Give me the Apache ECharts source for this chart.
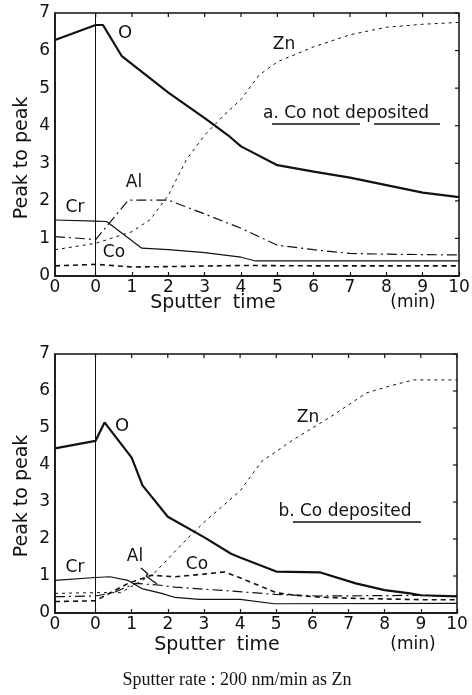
<!DOCTYPE html>
<html>
<head>
<meta charset="utf-8">
<script src="https://cdn.jsdelivr.net/npm/echarts@6/dist/echarts.min.js"></script>
<style>
  html, body { margin: 0; padding: 0; background: #fff; }
  #chart { width: 472px; height: 695px; }
</style>
</head>
<body>
<div id="chart"></div>
<script>
// sputter time (min); the stretch left of 0 is the pre-sputter part
var xStart = -1.12;
var tickTimes = [0, 1, 2, 3, 4, 5, 6, 7, 8, 9, 10];
var labelTimes = [xStart, 0, 1, 2, 3, 4, 5, 6, 7, 8, 9, 10];
var tickLevels = [0, 1, 2, 3, 4, 5, 6, 7];

// a. Co not deposited
var aO  = [[-1.12, 6.28], [0, 6.68], [0.2, 6.68], [0.72, 5.85], [2, 4.88], [3, 4.2], [3.7, 3.7], [4, 3.45], [5, 2.95], [6, 2.78], [7, 2.62], [8, 2.42], [9, 2.22], [10, 2.1]];
var aZn = [[-1.12, 0.7], [0, 0.87], [1, 1.18], [1.5, 1.5], [2, 2.15], [2.5, 3.1], [3, 3.75], [3.5, 4.25], [4, 4.7], [4.5, 5.35], [5, 5.7], [6, 6.1], [7, 6.42], [8, 6.62], [9, 6.7], [10, 6.75]];
var aAl = [[-1.12, 1.05], [0, 0.97], [0.9, 2.02], [2, 2.02], [3, 1.65], [4, 1.27], [5, 0.82], [6, 0.7], [7, 0.6], [8, 0.58], [9, 0.57], [10, 0.56]];
var aCr = [[-1.12, 1.49], [0, 1.46], [0.3, 1.45], [1.27, 0.74], [2, 0.7], [3, 0.62], [4, 0.5], [4.4, 0.4], [10, 0.4]];
var aCo = [[-1.12, 0.27], [0, 0.31], [1, 0.24], [2, 0.25], [4, 0.28], [6, 0.27], [10, 0.27]];

// b. Co deposited
var bO  = [[-1.12, 4.45], [0, 4.65], [0.05, 4.7], [0.25, 5.15], [1, 4.2], [1.3, 3.45], [2, 2.6], [3, 2.05], [3.75, 1.6], [4, 1.5], [5, 1.12], [6.2, 1.1], [7.2, 0.8], [8, 0.62], [8.7, 0.53], [9, 0.48], [10, 0.45]];
var bZn = [[-1.12, 0.53], [0, 0.55], [0.7, 0.55], [1.6, 1.05], [2.5, 1.97], [3, 2.45], [4, 3.3], [4.6, 4.1], [5.5, 4.7], [6.5, 5.3], [7.5, 5.95], [8.2, 6.15], [8.8, 6.3], [10, 6.3]];
var bAl = [[-1.12, 0.44], [0, 0.46], [0.5, 0.55], [1.1, 0.8], [1.8, 0.75], [2.2, 0.7], [3.5, 0.61], [5, 0.5], [6.2, 0.46], [8, 0.47], [9, 0.48], [10, 0.45]];
var bCr = [[-1.12, 0.88], [0, 0.96], [0.4, 0.98], [0.9, 0.88], [1.28, 0.66], [1.83, 0.53], [2.2, 0.42], [2.87, 0.37], [4, 0.37], [4.94, 0.25], [10, 0.26]];
var bCo = [[-1.12, 0.31], [0, 0.33], [0.9, 0.8], [1.55, 1.02], [2.2, 0.98], [3, 1.05], [3.56, 1.11], [4, 0.95], [5, 0.55], [5.5, 0.48], [6.2, 0.43], [7, 0.4], [8, 0.38], [9, 0.36], [10, 0.36]];

var FONT = "DejaVu Sans";
var INK = "#111";

function xAxis(gi) {
  return {
    gridIndex: gi, type: "value", min: xStart, max: 10, position: "bottom",
    axisLine: { show: true, onZero: false, lineStyle: { color: INK, width: 1.5 } },
    axisTick: { show: true, inside: true, length: 4, customValues: tickTimes, lineStyle: { color: INK, width: 1.2 } },
    axisLabel: {
      customValues: labelTimes, color: INK, fontFamily: FONT, fontSize: 17, margin: 3,
      formatter: function (v) { return v < -0.5 ? "0" : String(Math.round(v)); }
    },
    splitLine: { show: false }
  };
}

function yAxis(gi) {
  return {
    gridIndex: gi, type: "value", min: 0, max: 7, interval: 1, position: "left",
    axisLine: { show: true, onZero: false, lineStyle: { color: INK, width: 1.5 } },
    axisTick: { show: false },
    axisLabel: { color: INK, fontFamily: FONT, fontSize: 17, margin: 5 },
    splitLine: { show: false }
  };
}

var styles = {
  O:  { type: "solid", width: 2.2 },
  Zn: { type: [3, 4], width: 1 },
  Al: { type: [10, 4, 2, 4], width: 1.2 },
  Cr: { type: "solid", width: 1.2 },
  Co: { type: [5, 4], width: 1.6 }
};

function mk(name, data, gi, withMark) {
  var s = {
    name: name, type: "line", data: data, xAxisIndex: gi, yAxisIndex: gi,
    symbol: "none", smooth: false, silent: true, animation: false,
    lineStyle: { color: INK, type: styles[name].type, width: styles[name].width }
  };
  if (withMark) {
    s.markLine = {
      silent: true, symbol: "none", label: { show: false },
      lineStyle: { color: INK, type: "solid", width: 1 },
      data: [{ xAxis: 0 }]
    };
  }
  return s;
}

function txt(x, y, s, size, rot, family) {
  return {
    type: "text", x: x, y: y, rotation: rot || 0, z: 50,
    style: { text: s, x: 0, y: 0, fill: INK, font: (size || 17) + "px '" + (family || FONT) + "'",
      textAlign: "center", textVerticalAlign: "middle" }
  };
}
function ln(x1, y1, x2, y2, w) {
  return { type: "line", z: 50, shape: { x1: x1, y1: y1, x2: x2, y2: y2 }, style: { stroke: INK, lineWidth: w || 1.3 } };
}

var labels = [
  // axis titles
  txt(22, 158, "Peak to peak", 19, Math.PI / 2),
  txt(22, 496, "Peak to peak", 19, Math.PI / 2),
  txt(213, 303, "Sputter  time", 19),
  txt(413, 303, "(min)", 17),
  txt(217, 645, "Sputter  time", 19),
  txt(413, 645, "(min)", 17),
  // panel a labels
  txt(125, 33, "O", 18),
  txt(284, 45, "Zn", 17),
  txt(134, 183, "Al", 17),
  txt(75, 208, "Cr", 17),
  txt(114, 253, "Co", 17),
  txt(346, 114, "a. Co not deposited", 17),
  ln(272, 124, 360, 124), ln(374, 124, 440, 124),
  // panel b labels
  txt(122, 426, "O", 18),
  txt(308, 418, "Zn", 17),
  txt(135, 557, "Al", 17),
  ln(141, 568, 148, 574), ln(148, 574, 146, 576), ln(146, 576, 157, 584),
  txt(197, 565, "Co", 17),
  txt(75, 568, "Cr", 17),
  txt(345, 512, "b. Co deposited", 17),
  ln(293, 522, 421, 522),
  // footer
  txt(237, 680, "Sputter rate : 200 nm/min as Zn", 18, 0, "Liberation Serif")
];

var chart = echarts.init(document.getElementById("chart"), null, { renderer: "canvas" });
chart.setOption({
  animation: false,
  backgroundColor: "#fff",
  grid: [
    { left: 55, right: 13, top: 13, height: 263, containLabel: false, outerBoundsMode: "none" },
    { left: 55, right: 15, top: 354, height: 259, containLabel: false, outerBoundsMode: "none" }
  ],
  xAxis: [xAxis(0), xAxis(1)],
  yAxis: [yAxis(0), yAxis(1)],
  series: [
    mk("O", aO, 0, true), mk("Zn", aZn, 0), mk("Al", aAl, 0), mk("Cr", aCr, 0), mk("Co", aCo, 0),
    mk("O", bO, 1, true), mk("Zn", bZn, 1), mk("Al", bAl, 1), mk("Cr", bCr, 1), mk("Co", bCo, 1)
  ],
  graphic: labels
});

// closing frame (top and right edges) with inward ticks, placed through the axes' own scales
var frame = [];
[0, 1].forEach(function (gi) {
  var r = chart.getModel().getComponent("grid", gi).coordinateSystem.getRect();
  frame.push({ type: "rect", z: 60, shape: { x: r.x, y: r.y, width: r.width, height: r.height },
    style: { fill: "none", stroke: INK, lineWidth: 1.5 } });
  tickTimes.forEach(function (t) {
    var px = chart.convertToPixel({ xAxisIndex: gi }, t);
    frame.push(ln(px, r.y, px, r.y + 4, 1.2));
  });
  tickLevels.forEach(function (v) {
    var py = chart.convertToPixel({ yAxisIndex: gi }, v);
    frame.push(ln(r.x + r.width - 4, py, r.x + r.width, py, 1.2));
  });
});
chart.setOption({ graphic: labels.concat(frame) });
</script>
</body>
</html>
